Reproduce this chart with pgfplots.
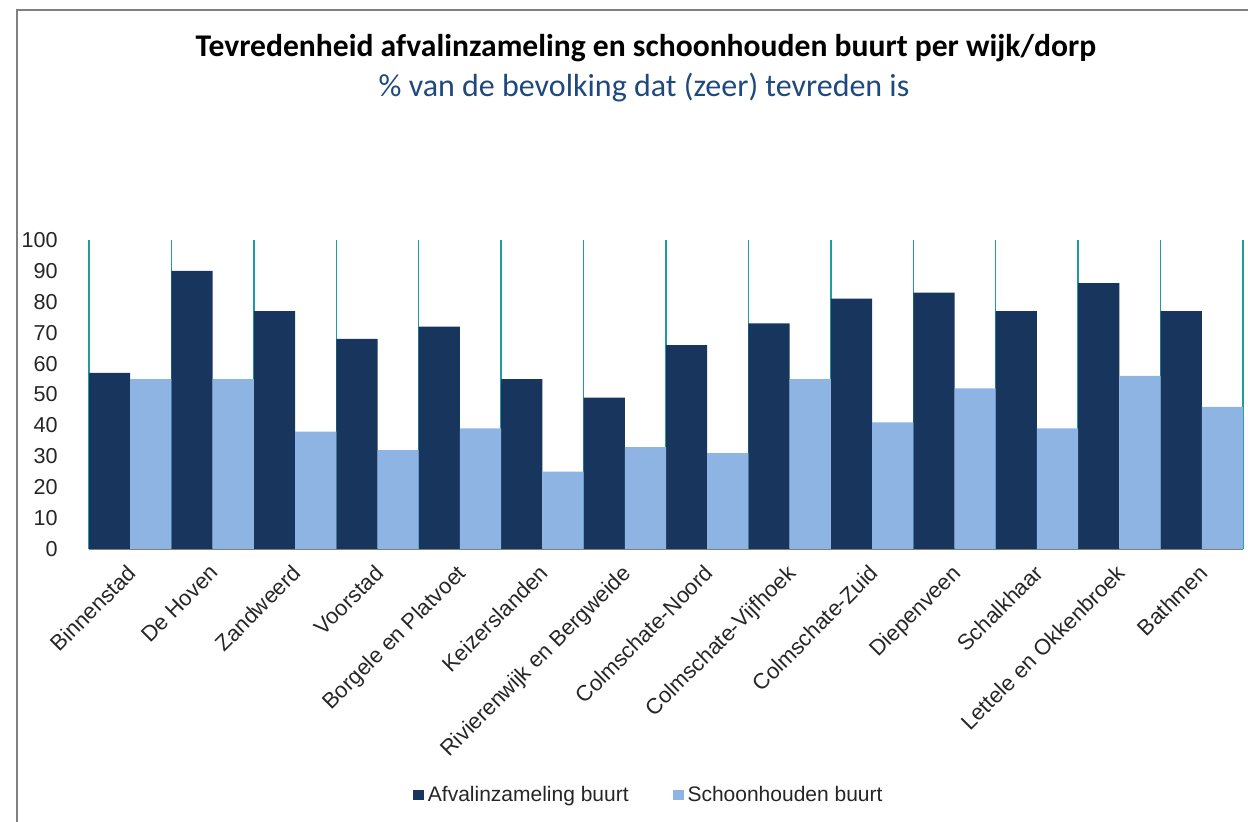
\documentclass[border=0pt]{standalone}
\usepackage{pgfplots}
\pgfplotsset{compat=1.18}
\usepackage{fontspec}
\setmainfont{Liberation Sans}
\newfontfamily\calibri{Carlito}
\definecolor{darkbar}{RGB}{24,54,93}
\definecolor{lightbar}{RGB}{142,180,227}
\definecolor{gridteal}{RGB}{30,155,165}
\definecolor{subblue}{RGB}{31,73,125}
\definecolor{framegray}{RGB}{128,128,128}
\begin{document}
\begin{tikzpicture}
\useasboundingbox (0pt,0pt) rectangle (624pt,411pt);
\draw[framegray, line width=1.1pt] (8.5pt,0pt) -- (8.5pt,406pt) -- (624pt,406pt);
\node[font=\calibri\bfseries\fontsize{15.8}{18}\selectfont] at (323pt,387pt) {Tevredenheid afvalinzameling en schoonhouden buurt per wijk/dorp};
\node[font=\calibri\fontsize{16}{18}\selectfont, text=subblue] at (322pt,367pt) {\% van de bevolking dat (zeer) tevreden is};
\begin{axis}[
  at={(44.5pt,136.5pt)}, anchor=south west,
  scale only axis, width=577pt, height=154.5pt,
  xmin=-0.5, xmax=13.5, ymin=0, ymax=100,
  ybar=0pt, bar width=0.5,
  ytick={0,10,...,100},
  xtick={0,...,13},
  xticklabels={Binnenstad, De Hoven, Zandweerd, Voorstad, Borgele en Platvoet, Keizerslanden, Rivierenwijk en Bergweide, Colmschate-Noord, Colmschate-Vijfhoek, Colmschate-Zuid, Diepenveen, Schalkhaar, Lettele en Okkenbroek, Bathmen},
  minor xtick={-0.5,0.5,...,13.5},
  xminorgrids, minor grid style={gridteal, line width=0.7pt},
  major tick length=0pt, minor tick length=0pt,
  axis x line=bottom, axis y line=left,
  x axis line style={framegray, line width=1pt, -},
  y axis line style={draw=none},
  /pgf/number format/assume math mode=true,
  ticklabel style={font=\fontsize{10.8}{12}\selectfont, text=black!85},
  yticklabel style={anchor=east, inner sep=0pt, xshift=-15.5pt},
  xticklabel style={xshift=-2pt, yshift=-7pt, rotate=45, anchor=north east, inner sep=0pt, font=\fontsize{11}{12}\selectfont},
  legend style={at={(0.486,-0.796)}, anchor=center, draw=none, legend columns=2,
    font=\fontsize{10.5}{12}\selectfont, text=black!85,
    /tikz/every even column/.append style={column sep=20pt}},
  legend image code/.code={\fill[#1] (0pt,-2.7pt) rectangle (5.4pt,2.7pt);},
]
\addplot[fill=darkbar, draw=none] coordinates {(0,57) (1,90) (2,77) (3,68) (4,72) (5,55) (6,49) (7,66) (8,73) (9,81) (10,83) (11,77) (12,86) (13,77)};
\addplot[fill=lightbar, draw=none] coordinates {(0,55) (1,55) (2,38) (3,32) (4,39) (5,25) (6,33) (7,31) (8,55) (9,41) (10,52) (11,39) (12,56) (13,46)};
\legend{Afvalinzameling buurt, Schoonhouden buurt}
\end{axis}
\end{tikzpicture}
\end{document}
